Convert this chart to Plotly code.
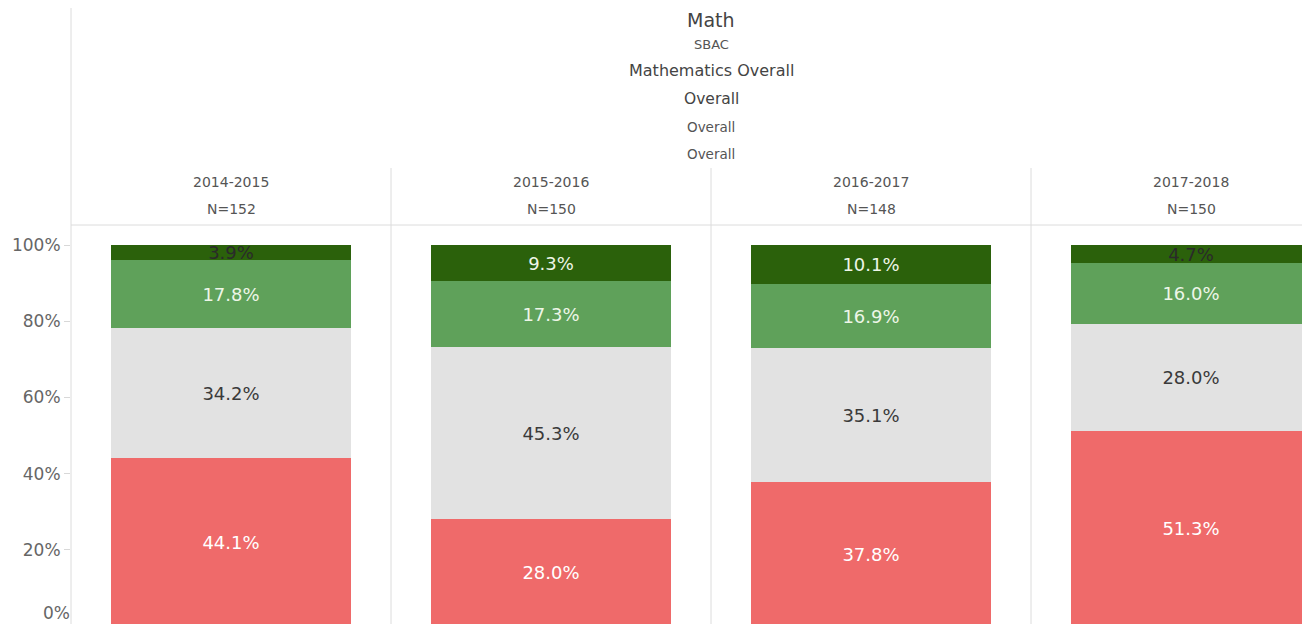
import plotly.graph_objects as go

years = ["2014-2015", "2015-2016", "2016-2017", "2017-2018"]
n_counts = [152, 150, 148, 150]
header_lines = ["Math", "SBAC", "Mathematics Overall", "Overall", "Overall", "Overall"]

# stacked from bottom to top
level_names = ["Not Met", "Nearly Met", "Met", "Exceeded"]
not_met = [44.1, 28.0, 37.8, 51.3]
nearly_met = [34.2, 45.3, 35.1, 28.0]
met = [17.8, 17.3, 16.9, 16.0]
exceeded = [3.9, 9.3, 10.1, 4.7]

y_ticks = [0, 20, 40, 60, 80, 100]

colors = ["#ef6a6a", "#e2e2e2", "#5fa15a", "#2b610b"]
text_colors = [
    ["#ffffff"] * 4,
    ["#3a3a3a"] * 4,
    ["#eef6e8"] * 4,
    ["#2a2a2a", "#eef6e8", "#eef6e8", "#2a2a2a"],
]
series = [not_met, nearly_met, met, exceeded]

FONT = "DejaVu Sans"
# the page body adds an 8px margin, so figure coordinates = page - 8
W, H = 1302, 640
LEFT = 63
PLOT_TOP = 218
PLOT_BOTTOM = 618

x_idx = list(range(len(years)))

fig = go.Figure()
for name, vals, col, tcol in zip(level_names, series, colors, text_colors):
    fig.add_trace(go.Bar(
        x=x_idx, y=vals, name=name,
        marker=dict(color=col, line=dict(width=0)),
        width=0.75,
        text=[f"{v:.1f}%" for v in vals],
        textposition="inside",
        insidetextanchor="middle",
        constraintext="none",
        textangle=0,
        textfont=dict(family=FONT, size=18, color=tcol),
        cliponaxis=False,
        hoverinfo="skip",
    ))
# empty helper trace so the overlay axis carrying the bottom label is drawn
fig.add_trace(go.Scatter(x=[], y=[], yaxis="y2", showlegend=False, hoverinfo="skip"))

tick_font = dict(family=FONT, size=17, color="#666666")
x_units = (W - LEFT) / 320.0
fig.update_layout(
    barmode="stack",
    width=W, height=H,
    margin=dict(l=0, r=0, t=0, b=0, autoexpand=False),
    paper_bgcolor="white",
    plot_bgcolor="white",
    showlegend=False,
    bargap=0,
    font=dict(family=FONT, color="#555555"),
    xaxis=dict(
        domain=[LEFT / W, 1],
        range=[-0.5, -0.5 + x_units],
        showticklabels=False, showgrid=False, zeroline=False, ticks="",
        automargin=False,
    ),
    yaxis=dict(
        domain=[(H - PLOT_BOTTOM) / H, (H - PLOT_TOP) / H],
        range=[0, 105],
        tickvals=y_ticks,
        ticktext=[("" if t == 0 else f"{t}%") for t in y_ticks],
        ticks="outside", ticklen=6, tickcolor="#d8d8d8",
        tickfont=tick_font,
        showgrid=False, zeroline=False,
        showline=False, automargin=False,
    ),
    yaxis2=dict(
        overlaying="y", side="left",
        range=[0, 105],
        tickvals=[y_ticks[0]],
        ticktext=[f"{y_ticks[0]}%"],
        ticks="", ticklabelshift=-13,
        tickfont=tick_font,
        showgrid=False, zeroline=False, showline=False,
        automargin=False,
    ),
)

line_col = "#dcdcdc"
fig.add_shape(type="line", xref="paper", yref="paper",
              x0=LEFT / W, x1=LEFT / W, y0=0, y1=1,
              line=dict(color=line_col, width=1))
fig.add_shape(type="line", xref="paper", yref="paper",
              x0=LEFT / W, x1=1, y0=1 - 217 / H, y1=1 - 217 / H,
              line=dict(color=line_col, width=1))
for i in range(len(years) - 1):
    fig.add_shape(type="line", xref="x", yref="paper",
                  x0=i + 0.5, x1=i + 0.5, y0=0, y1=1 - 160 / H,
                  line=dict(color=line_col, width=1))

for i, (yr, n) in enumerate(zip(years, n_counts)):
    fig.add_annotation(x=i, y=1 - 174 / H, xref="x", yref="paper",
                       text=yr, showarrow=False, yanchor="middle",
                       font=dict(family=FONT, size=14, color="#555555"))
    fig.add_annotation(x=i, y=1 - 201 / H, xref="x", yref="paper",
                       text=f"N={n}", showarrow=False, yanchor="middle",
                       font=dict(family=FONT, size=14, color="#555555"))

# title line sits at the very top: anchor its box to the figure top
fig.add_annotation(x=1.5, y=1, xref="x", yref="paper",
                   text=header_lines[0], showarrow=False, yanchor="top",
                   borderpad=0,
                   font=dict(family=FONT, size=19, color="#444444"))
header_y = [36, 63, 91, 119, 146]
header_size = [13, 16, 15.5, 13.5, 13.5]
header_color = ["#555555", "#444444", "#444444", "#555555", "#555555"]
for txt, yy, sz, c in zip(header_lines[1:], header_y, header_size, header_color):
    fig.add_annotation(x=1.5, y=1 - yy / H, xref="x", yref="paper",
                       text=txt, showarrow=False, yanchor="middle",
                       font=dict(family=FONT, size=sz, color=c))

fig.write_html("out.html")
